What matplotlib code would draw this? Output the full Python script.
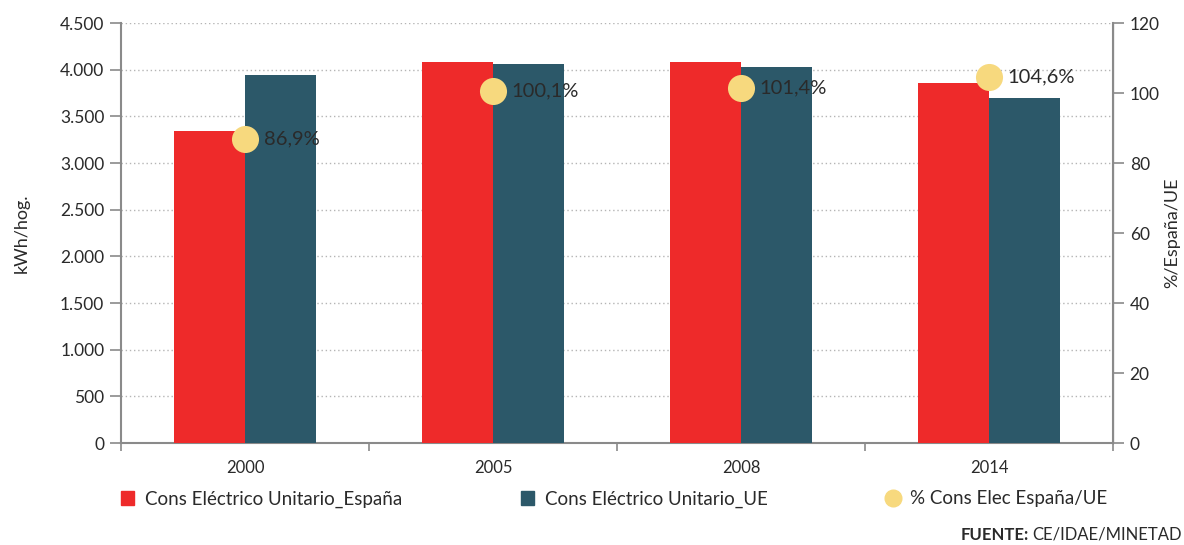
import numpy as np
import matplotlib
matplotlib.use("Agg")
import matplotlib.pyplot as plt
from matplotlib.ticker import FuncFormatter, FixedLocator
from matplotlib.lines import Line2D
from matplotlib.patches import Patch

plt.rcParams['font.family'] = ['Lato', 'DejaVu Sans']

# data
years = ['2000', '2005', '2008', '2014']
espana = [3345, 4080, 4080, 3855]   # kWh/hog.
ue = [3940, 4060, 4030, 3700]       # kWh/hog.
ratio = [86.9, 100.6, 101.4, 104.6] # % España/UE (dot positions)
ratio_labels = ['86,9%', '100,1%', '101,4%', '104,6%']

RED = '#ee2a2a'
TEAL = '#2c5869'
YEL = '#f7d97e'
GREY = '#8a8a8a'
TXT = '#2a2a2a'

fig = plt.figure(figsize=(11.84, 5.45), dpi=100)
ax = fig.add_axes([121/1184, 1-443/545, (1113-121)/1184, (443-23)/545])
ax2 = ax.twinx()

x = np.arange(len(years))
w = 0.285
ax.bar(x - w/2, espana, w, color=RED, zorder=3)
ax.bar(x + w/2, ue, w, color=TEAL, zorder=3)

ax.set_xlim(-0.5, len(years) - 0.5)
ax.set_ylim(0, 4500)
ax.set_yticks(np.arange(0, 4501, 500))
ax.yaxis.set_major_formatter(FuncFormatter(lambda v, p: f'{int(v):,}'.replace(',', '.')))
ax.grid(axis='y', linestyle=(0, (1, 2)), color='#b5b5b5', linewidth=1, zorder=0)

ax.set_xticks(x)
ax.set_xticklabels(years)
ax.tick_params(axis='x', length=0, pad=12, labelsize=12, colors=TXT)
ax.xaxis.set_minor_locator(FixedLocator(np.arange(-0.5, len(years), 1)))
ax.tick_params(axis='x', which='minor', length=6, color=GREY, width=1.2, direction='out')
ax.tick_params(axis='y', length=8, color=GREY, width=1.2, labelsize=12.5, labelcolor=TXT, pad=4)
ax.set_ylabel('kWh/hog.', fontsize=13, color=TXT, labelpad=22)

for s in ['top']:
    ax.spines[s].set_visible(False)
    ax2.spines[s].set_visible(False)
for sp in [ax.spines['left'], ax.spines['bottom'], ax2.spines['right']]:
    sp.set_color(GREY)
    sp.set_linewidth(1.5)
ax2.spines['left'].set_visible(False)
ax2.spines['bottom'].set_visible(False)

ax2.set_ylim(0, 120)
ax2.set_yticks(np.arange(0, 121, 20))
ax2.tick_params(axis='y', length=8, color=GREY, width=1.2, labelsize=12.5, labelcolor=TXT, pad=4)
ax2.set_ylabel('%/España/UE', fontsize=13, color=TXT, labelpad=3)

ax2.scatter(x, ratio, s=380, color=YEL, zorder=5, linewidths=0)
for xi, r, lab in zip(x, ratio, ratio_labels):
    ax2.text(xi + 0.075, r, lab, va='center', ha='left', fontsize=14.5, color=TXT)

handles = [Patch(color=RED), Patch(color=TEAL),
           Line2D([], [], marker='o', linestyle='', color=YEL, markersize=12)]
labels = ['Cons Eléctrico Unitario_España', 'Cons Eléctrico Unitario_UE', '% Cons Elec España/UE']
fig.legend(handles, labels, loc='center left', bbox_to_anchor=(104/1184, 1-499/545),
           ncol=3, frameon=False, fontsize=13.5, handlelength=0.7, handleheight=0.8,
           handletextpad=0.6, columnspacing=6.3, labelcolor=TXT)

t2 = fig.text(1182/1184, 1-535/545, 'CE/IDAE/MINETAD', ha='right', va='center',
              fontsize=12, color=TXT)
fig.canvas.draw()
bb = t2.get_window_extent()
fig.text((bb.x0 - 4)/1184, 1-535/545, 'FUENTE:', ha='right', va='center',
         fontsize=12, color=TXT, fontweight='bold')

fig.savefig('out.png', dpi=100)
